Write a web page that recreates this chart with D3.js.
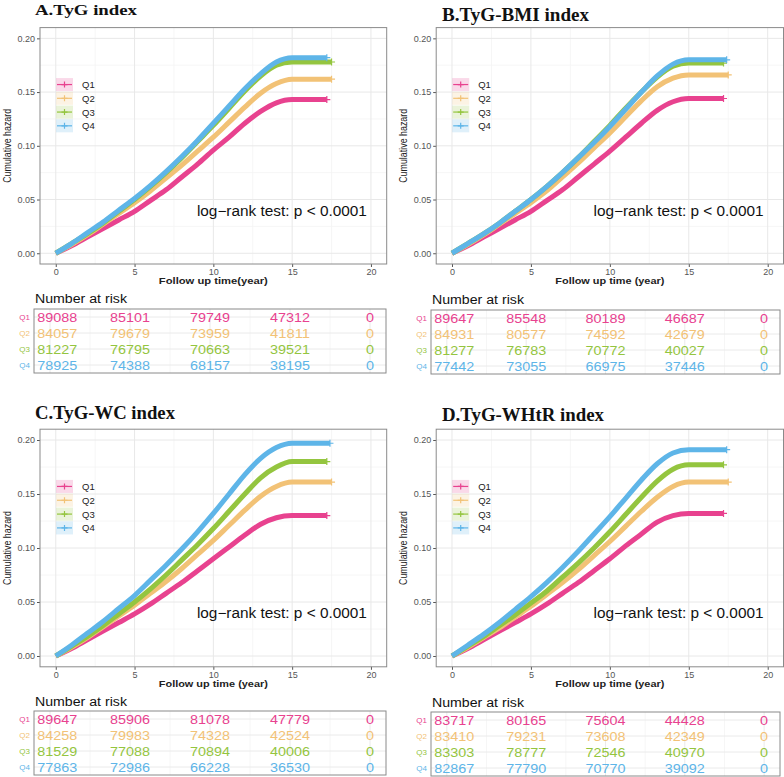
<!DOCTYPE html>
<html>
<head>
<meta charset="utf-8">
<script src="https://cdn.jsdelivr.net/npm/d3@7"></script>
<style>
  body { margin: 0; background: #fff; }
  svg { display: block; }
  text { font-family: "Liberation Sans", Arial, sans-serif; }
</style>
</head>
<body>
<svg width="784" height="777"></svg>
<script>
// quartile groups and colours
var groups = ["Q1", "Q2", "Q3", "Q4"];
var colors = ["#E8428F", "#F2C276", "#94C53F", "#5EB5E8"];

// axis ticks
var xTicks = [0, 5, 10, 15, 20];
var yTicks = [0, 0.05, 0.10, 0.15, 0.20];
var riskTimes = [0, 5, 10, 15, 20];

var times = [0, 1, 2, 3, 4, 5, 6, 7, 8, 9, 10, 11, 12, 13, 14, 15];

// A. TyG
var hazA = [
  [0, .007, .015, .023, .031, .039, .049, .059, .071, .083, .096, .108, .121, .132, .140, .143],
  [0, .008, .017, .027, .037, .047, .058, .070, .082, .095, .108, .122, .136, .149, .158, .162],
  [0, .009, .018, .028, .039, .050, .062, .075, .089, .104, .119, .135, .151, .165, .175, .178],
  [0, .009, .019, .029, .040, .051, .063, .076, .090, .105, .121, .137, .153, .167, .178, .182]
];
var endA = [17.2, 17.5, 17.5, 17.2];
var riskA = [
  [89088, 85101, 79749, 47312, 0],
  [84057, 79679, 73959, 41811, 0],
  [81227, 76795, 70663, 39521, 0],
  [78925, 74388, 68157, 38195, 0]
];

// B. TyG-BMI
var hazB = [
  [0, .007, .015, .023, .031, .039, .049, .059, .071, .083, .095, .108, .121, .133, .141, .144],
  [0, .008, .017, .027, .037, .047, .058, .071, .084, .098, .112, .127, .142, .155, .163, .166],
  [0, .009, .018, .028, .039, .050, .062, .075, .089, .104, .119, .135, .150, .164, .174, .177],
  [0, .009, .018, .028, .039, .050, .062, .075, .089, .103, .118, .134, .150, .165, .176, .180]
];
var endB = [17.2, 17.5, 17.2, 17.4];
var riskB = [
  [89647, 85548, 80189, 46687, 0],
  [84931, 80577, 74592, 42679, 0],
  [81277, 76783, 70772, 40027, 0],
  [77442, 73055, 66975, 37446, 0]
];

// C. TyG-WC
var hazC = [
  [0, .007, .015, .023, .031, .039, .048, .058, .068, .079, .090, .101, .112, .122, .128, .130],
  [0, .008, .017, .027, .037, .047, .058, .069, .081, .094, .107, .121, .135, .148, .157, .161],
  [0, .009, .018, .028, .039, .050, .062, .075, .089, .103, .118, .134, .150, .165, .175, .180],
  [0, .010, .021, .032, .044, .056, .070, .084, .099, .115, .132, .150, .168, .183, .193, .197]
];
var endC = [17.2, 17.5, 17.2, 17.4];
var riskC = [
  [89647, 85906, 81078, 47779, 0],
  [84258, 79983, 74328, 42524, 0],
  [81529, 77088, 70894, 40006, 0],
  [77863, 72986, 66228, 36530, 0]
];

// D. TyG-WHtR
var hazD = [
  [0, .007, .015, .023, .031, .039, .048, .058, .068, .079, .090, .102, .113, .124, .130, .132],
  [0, .008, .017, .026, .036, .046, .057, .068, .080, .093, .106, .120, .134, .147, .157, .161],
  [0, .009, .018, .028, .038, .049, .060, .073, .086, .100, .115, .131, .147, .162, .173, .177],
  [0, .010, .020, .031, .043, .055, .068, .082, .097, .113, .129, .146, .163, .178, .188, .191]
];
var endD = [17.2, 17.5, 17.2, 17.4];
var riskD = [
  [83717, 80165, 75604, 44428, 0],
  [83410, 79231, 73608, 42349, 0],
  [83303, 78777, 72546, 40970, 0],
  [82867, 77790, 70770, 39092, 0]
];

var titles = ["A.TyG index", "B.TyG-BMI index", "C.TyG-WC index", "D.TyG-WHtR index"];
var xTitles = ["Follow up time(year)", "Follow up time (year)", "Follow up time (year)", "Follow up time (year)"];
var pText = "log\u2212rank test: p < 0.0001";

var svg = d3.select("svg");

var panels = [
  { title: titles[0], xTitle: xTitles[0], haz: hazA, end: endA, risk: riskA,
    plot: {l: 40, r: 386.7, t: 27.6, b: 264}, ttl: {x: 35, y: 14.5, size: 15, len: 102},
    table: {l: 34, r: 386, t: 309, b: 373}, nar: 303 },
  { title: titles[1], xTitle: xTitles[1], haz: hazB, end: endB, risk: riskB,
    plot: {l: 436.2, r: 783.5, t: 27.6, b: 264}, ttl: {x: 442, y: 21, size: 18, len: 147},
    table: {l: 431, r: 780, t: 310, b: 374}, nar: 304 },
  { title: titles[2], xTitle: xTitles[2], haz: hazC, end: endC, risk: riskC,
    plot: {l: 40, r: 386.7, t: 429.2, b: 666.8}, ttl: {x: 35, y: 419, size: 18, len: 140},
    table: {l: 34, r: 386, t: 711, b: 775}, nar: 706 },
  { title: titles[3], xTitle: xTitles[3], haz: hazD, end: endD, risk: riskD,
    plot: {l: 436.2, r: 783.5, t: 429.2, b: 666.8}, ttl: {x: 442, y: 421, size: 18, len: 162},
    table: {l: 431, r: 780, t: 712, b: 776}, nar: 707 }
];

panels.forEach(drawPanel);

function plus(x, y, s) {
  return "M" + (x - s) + "," + y + "H" + (x + s) + "M" + x + "," + (y - s) + "V" + (y + s);
}

function drawPanel(p) {
  var g = svg.append("g");

  var x = d3.scaleLinear().domain([-1, 21]).range([p.plot.l, p.plot.r]);
  var y = d3.scaleLinear().domain([-0.01, 0.21]).range([p.plot.b, p.plot.t]);

  // title
  g.append("text")
      .attr("x", p.ttl.x)
      .attr("y", p.ttl.y)
      .attr("textLength", p.ttl.len)
      .attr("lengthAdjust", "spacingAndGlyphs")
      .style("font-family", "'Liberation Serif', 'Times New Roman', serif")
      .style("font-weight", "bold")
      .style("font-size", p.ttl.size + "px")
      .attr("fill", "#111")
      .text(p.title);

  // grid
  var minorX = [2.5, 7.5, 12.5, 17.5];
  var minorY = [0.025, 0.075, 0.125, 0.175];
  g.selectAll(".mx").data(minorX).enter().append("line")
      .attr("x1", x).attr("x2", x).attr("y1", p.plot.t).attr("y2", p.plot.b)
      .attr("stroke", "#F4F4F4").attr("stroke-width", 0.8);
  g.selectAll(".my").data(minorY).enter().append("line")
      .attr("y1", y).attr("y2", y).attr("x1", p.plot.l).attr("x2", p.plot.r)
      .attr("stroke", "#F4F4F4").attr("stroke-width", 0.8);
  g.selectAll(".gx").data(xTicks).enter().append("line")
      .attr("x1", x).attr("x2", x).attr("y1", p.plot.t).attr("y2", p.plot.b)
      .attr("stroke", "#E8E8E8").attr("stroke-width", 1);
  g.selectAll(".gy").data(yTicks).enter().append("line")
      .attr("y1", y).attr("y2", y).attr("x1", p.plot.l).attr("x2", p.plot.r)
      .attr("stroke", "#E8E8E8").attr("stroke-width", 1);

  // axes
  var ax = g.append("g")
      .attr("transform", "translate(0," + p.plot.b + ")")
      .call(d3.axisBottom(x).tickValues(xTicks).tickSize(3).tickPadding(2));
  var ay = g.append("g")
      .attr("transform", "translate(" + p.plot.l + ",0)")
      .call(d3.axisLeft(y).tickValues(yTicks).tickSize(3).tickPadding(2)
        .tickFormat(d3.format(".2f")));
  [ax, ay].forEach(function(a) {
    a.select(".domain").remove();
    a.selectAll("line").attr("stroke", "#555");
    a.selectAll("text").attr("fill", "#555")
        .style("font-size", "9px")
        .style("font-family", "'Liberation Sans', Arial, sans-serif");
  });

  // panel border
  g.append("rect")
      .attr("x", p.plot.l).attr("y", p.plot.t)
      .attr("width", p.plot.r - p.plot.l).attr("height", p.plot.b - p.plot.t)
      .attr("fill", "none").attr("stroke", "#8a8a8a").attr("stroke-width", 1);

  // axis titles
  g.append("text")
      .attr("x", (p.plot.l + p.plot.r) / 2)
      .attr("y", p.plot.b + 20)
      .attr("text-anchor", "middle")
      .attr("textLength", 109)
      .attr("lengthAdjust", "spacingAndGlyphs")
      .style("font-size", "9px")
      .style("font-weight", "bold")
      .attr("fill", "#222")
      .text(p.xTitle);

  g.append("text")
      .attr("transform", "translate(" + (p.plot.l - 29) + "," + ((p.plot.t + p.plot.b) / 2) + ") rotate(-90)")
      .attr("text-anchor", "middle")
      .attr("textLength", 74)
      .attr("lengthAdjust", "spacingAndGlyphs")
      .style("font-size", "10.5px")
      .attr("fill", "#222")
      .text("Cumulative hazard");

  // curves
  var line = d3.line()
      .x(function(d) { return x(d[0]); })
      .y(function(d) { return y(d[1]); })
      .curve(d3.curveMonotoneX);

  p.haz.forEach(function(h, i) {
    var pts = times.map(function(t, j) { return [t, h[j]]; });
    pts.push([p.end[i], h[h.length - 1]]);
    g.append("path")
        .attr("d", line(pts))
        .attr("fill", "none")
        .attr("stroke", colors[i])
        .attr("stroke-width", 5);
    g.append("path")
        .attr("d", plus(x(p.end[i]), y(h[h.length - 1]), 3.5))
        .attr("stroke", colors[i])
        .attr("stroke-width", 1.2);
  });

  // legend
  var lg = g.selectAll(".leg").data(groups).enter().append("g")
      .attr("transform", function(d, i) {
        return "translate(" + (p.plot.l + 16) + "," + y(0.157 - i * 0.0128) + ")";
      });
  lg.append("rect")
      .attr("x", 0).attr("y", -6.5).attr("width", 17).attr("height", 13)
      .attr("fill", function(d, i) { return colors[i]; })
      .attr("fill-opacity", 0.2);
  lg.append("line")
      .attr("x1", 1).attr("x2", 16).attr("y1", 0).attr("y2", 0)
      .attr("stroke", function(d, i) { return colors[i]; })
      .attr("stroke-width", 1.2);
  lg.append("path")
      .attr("d", plus(8.5, 0, 3))
      .attr("stroke", function(d, i) { return colors[i]; })
      .attr("stroke-width", 1.2);
  lg.append("text")
      .attr("x", 26).attr("y", 3.5)
      .style("font-size", "9.5px")
      .attr("fill", "#222")
      .text(function(d) { return d; });

  // log-rank text
  g.append("text")
      .attr("x", x(14.35))
      .attr("y", y(0.035))
      .attr("text-anchor", "middle")
      .attr("textLength", 170)
      .attr("lengthAdjust", "spacingAndGlyphs")
      .style("font-size", "14px")
      .attr("fill", "#111")
      .text(pText);

  // number at risk table
  var tx = d3.scaleLinear().domain([-1, 21]).range([p.table.l, p.table.r]);
  var ty = d3.scaleBand().domain(groups).range([p.table.t, p.table.b]);

  g.append("text")
      .attr("x", p.table.l + 1)
      .attr("y", p.nar)
      .attr("textLength", 92)
      .attr("lengthAdjust", "spacingAndGlyphs")
      .style("font-size", "12px")
      .attr("fill", "#111")
      .text("Number at risk");

  var tminor = [2.5, 7.5, 12.5, 17.5];
  g.selectAll(".tmx").data(tminor).enter().append("line")
      .attr("x1", tx).attr("x2", tx).attr("y1", p.table.t).attr("y2", p.table.b)
      .attr("stroke", "#F4F4F4").attr("stroke-width", 0.8);
  g.selectAll(".tgx").data(riskTimes).enter().append("line")
      .attr("x1", tx).attr("x2", tx).attr("y1", p.table.t).attr("y2", p.table.b)
      .attr("stroke", "#EAEAEA").attr("stroke-width", 1);
  g.selectAll(".tgy").data(groups).enter().append("line")
      .attr("x1", p.table.l).attr("x2", p.table.r)
      .attr("y1", function(d) { return ty(d) + ty.bandwidth() / 2; })
      .attr("y2", function(d) { return ty(d) + ty.bandwidth() / 2; })
      .attr("stroke", "#EAEAEA").attr("stroke-width", 1);

  g.append("rect")
      .attr("x", p.table.l).attr("y", p.table.t)
      .attr("width", p.table.r - p.table.l).attr("height", p.table.b - p.table.t)
      .attr("fill", "none").attr("stroke", "#8a8a8a").attr("stroke-width", 1);

  // row labels
  g.selectAll(".rl").data(groups).enter().append("text")
      .attr("x", p.table.l - 4)
      .attr("y", function(d) { return ty(d) + ty.bandwidth() / 2 + 3; })
      .attr("text-anchor", "end")
      .style("font-size", "8px")
      .attr("fill", function(d, i) { return colors[i]; })
      .text(function(d) { return d; });

  // counts
  p.risk.forEach(function(row, i) {
    g.selectAll(".n" + i).data(row).enter().append("text")
        .attr("x", function(d, j) { return j === 0 ? tx(-0.8) : tx(riskTimes[j]); })
        .attr("y", ty(groups[i]) + ty.bandwidth() / 2 + 4.5)
        .attr("text-anchor", function(d, j) { return j === 0 ? "start" : "middle"; })
        .attr("textLength", function(d) { return String(d).length * 8; })
        .attr("lengthAdjust", "spacingAndGlyphs")
        .style("font-size", "12.5px")
        .attr("fill", colors[i])
        .text(function(d) { return d; });
  });
}
</script>
</body>
</html>
